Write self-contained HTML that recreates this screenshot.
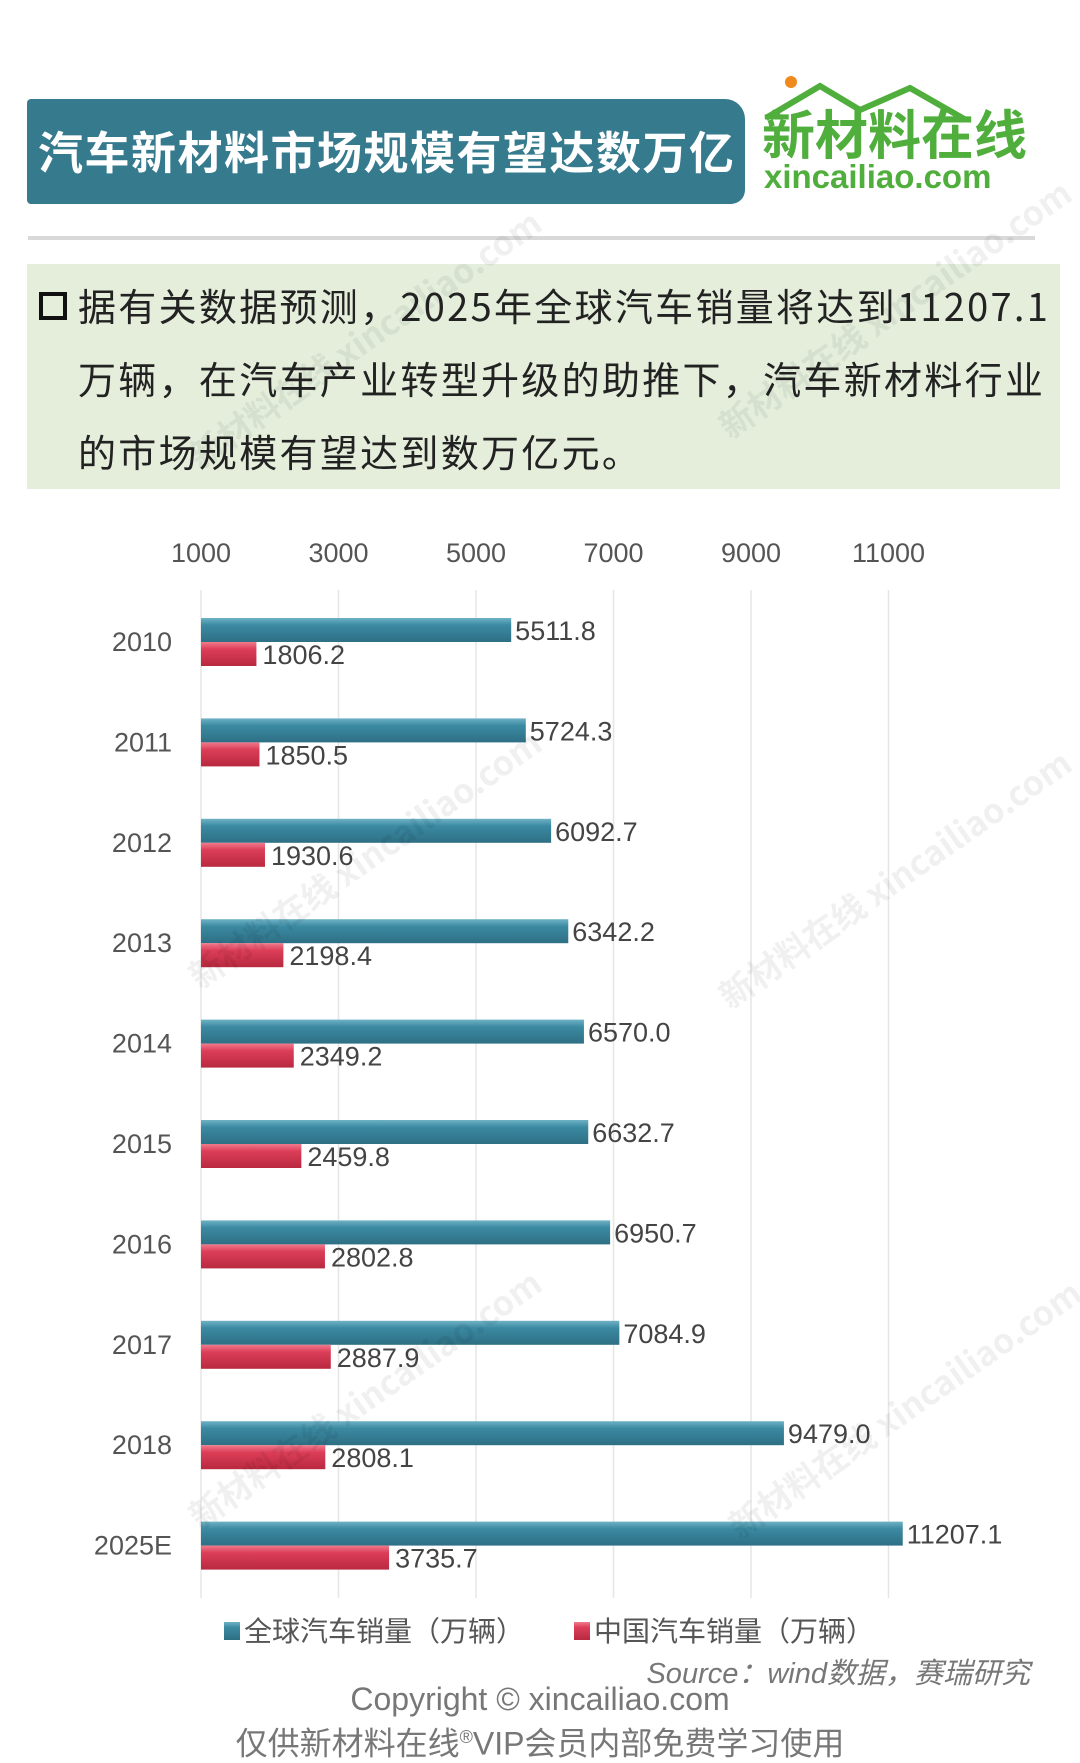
<!DOCTYPE html>
<html><head><meta charset="utf-8">
<style>
body{margin:0;width:1080px;height:1758px;background:#fff;overflow:hidden;font-family:"Liberation Sans","Noto Sans CJK SC",sans-serif;position:relative}
.abs{position:absolute}
</style></head><body>
<div class="abs" style="left:27px;top:99px;width:718px;height:105px;background:#367a8e;border-radius:4px 20px 14px 4px"></div>
<div class="abs" style="left:38px;top:121px;color:#fff;font-size:45px;letter-spacing:1.5px;font-weight:bold;font-family:'Noto Sans CJK SC',sans-serif;line-height:58px;white-space:nowrap">汽车新材料市场规模有望达数万亿</div>
<div class="abs" style="left:760px;top:74px;width:300px;height:120px">
<svg width="300" height="120"><circle cx="31" cy="8" r="6" fill="#f08a1c"/><path d="M6 44 L60 12 L100 36 L150 14 L206 46" stroke="#4fae3c" stroke-width="6" fill="none"/>
<text x="2" y="80" font-size="53" font-weight="bold" fill="#4fae3c" font-family="Noto Sans CJK SC">新材料在线</text>
<text x="4" y="114" font-size="33" font-weight="bold" fill="#4fae3c" font-family="Liberation Sans">xincailiao.com</text></svg></div>
<div class="abs" style="left:28px;top:236px;width:1007px;height:4px;background:#d9d9d9"></div>
<div class="abs" style="left:27px;top:264px;width:1033px;height:225px;background:#e4eedb"></div>
<div class="abs" style="left:39px;top:292px;width:20px;height:20px;border:4px solid #111"></div>
<div class="abs" style="left:78px;top:268px;width:990px;font-size:38px;letter-spacing:2.3px;line-height:73px;color:#222;font-family:'Noto Sans CJK SC',sans-serif;white-space:nowrap">据有关数据预测，2025年全球汽车销量将达到11207.1<br>万辆，在汽车产业转型升级的助推下，汽车新材料行业<br>的市场规模有望达到数万亿元。</div>
<svg class="abs" style="left:0;top:0" width="1080" height="1758" id="chart"></svg>
<div class="abs" style="right:50px;top:1650px;font-size:29px;font-style:italic;color:#777">Source：wind数据，赛瑞研究</div>
<div class="abs" style="left:0;width:1080px;text-align:center;top:1680px;font-size:32px;color:#777;line-height:38px">Copyright © xincailiao.com<br>仅供新材料在线<sup style="font-size:18px">®</sup>VIP会员内部免费学习使用</div>
<script>
const categories=["2010","2011","2012","2013","2014","2015","2016","2017","2018","2025E"];
const globalSales=[5511.8,5724.3,6092.7,6342.2,6570.0,6632.7,6950.7,7084.9,9479.0,11207.1];
const chinaSales=[1806.2,1850.5,1930.6,2198.4,2349.2,2459.8,2802.8,2887.9,2808.1,3735.7];
const ticks=[1000,3000,5000,7000,9000,11000];
const legendLabels=["全球汽车销量（万辆）","中国汽车销量（万辆）"];
const NS="http://www.w3.org/2000/svg";
const svg=document.getElementById('chart');
const x=v=>201+(v-1000)/2000*137.5;
const y=i=>642+i*100.4;
function mk(t,a,p){const e=document.createElementNS(NS,t);for(const k in a)e.setAttribute(k,a[k]);(p||svg).appendChild(e);return e;}
const defs=mk('defs',{});
defs.innerHTML='<linearGradient id="gb" x1="0" y1="0" x2="0" y2="1"><stop offset="0" stop-color="#6fb2c6"/><stop offset="0.3" stop-color="#3b8aa2"/><stop offset="1" stop-color="#2e6f84"/></linearGradient><linearGradient id="gr" x1="0" y1="0" x2="0" y2="1"><stop offset="0" stop-color="#f07a8c"/><stop offset="0.3" stop-color="#dc3e58"/><stop offset="1" stop-color="#b8293f"/></linearGradient>';
ticks.forEach(t=>{
 const l=mk('line',{x1:x(t),x2:x(t),y1:590,y2:1598,stroke:'#e6e6e6','stroke-width':1.5});
 
 const tx=mk('text',{x:x(t),y:562,'text-anchor':'middle','font-size':27,fill:'#555'});tx.textContent=t;
 
});
categories.forEach((c,i)=>{
 const b=y(i);
 const cl=mk('text',{x:172,y:b+9,'text-anchor':'end','font-size':27,fill:'#555'});cl.textContent=c;
 
 const r1=mk('rect',{x:x(1000),y:b-24,width:x(globalSales[i])-x(1000),height:24,fill:'url(#gb)'});
 
 const r2=mk('rect',{x:x(1000),y:b,width:x(chinaSales[i])-x(1000),height:24,fill:'url(#gr)'});
 
 const v1=mk('text',{x:x(globalSales[i])+4,y:b-2,'font-size':27,fill:'#444'});v1.textContent=globalSales[i].toFixed(1);
 
 const v2=mk('text',{x:x(chinaSales[i])+6,y:b+22,'font-size':27,fill:'#444'});v2.textContent=chinaSales[i].toFixed(1);
 
});
[[224,'url(#gb)'],[574,'url(#gr)']].forEach((p,i)=>{
 const s=mk('rect',{x:p[0],y:1622,width:16,height:18,fill:p[1]});
 
 const t=mk('text',{x:p[0]+20,y:1641,'font-size':28,fill:'#555','font-family':'Noto Sans CJK SC'});t.textContent=legendLabels[i];
 
});
[[200,470],[730,440],[200,990],[730,1010],[200,1530],[740,1540]].forEach(p=>{
 const w=mk('text',{x:p[0],y:p[1],'font-size':34,fill:'#000','fill-opacity':0.06,'font-weight':'bold',transform:`rotate(-35 ${p[0]} ${p[1]})`,'font-family':'Noto Sans CJK SC'});
 w.textContent='新材料在线 xincailiao.com';
 
});
</script>
</body></html>
